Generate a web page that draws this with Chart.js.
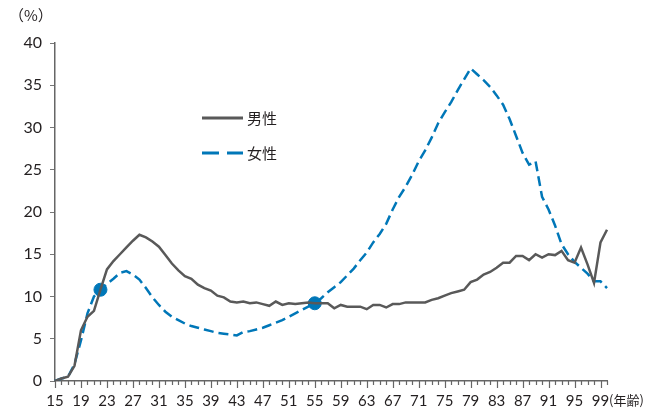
<!DOCTYPE html>
<html>
<head>
<meta charset="utf-8">
<script src="https://cdn.jsdelivr.net/npm/chart.js@4"></script>
<style>
  html, body { margin: 0; padding: 0; background: #fff; overflow: hidden; }
  #wrap { width: 655px; height: 413px; }
</style>
</head>
<body>
<div id="wrap"><canvas id="grafica"></canvas></div>
<script>
// 年齢 15〜100
const edades = [];
for (let a = 15; a <= 100; a++) edades.push(a);

const hombres = [
  0.0, 0.3, 0.5, 1.8, 6.0, 7.6, 8.3, 10.8, 13.2, 14.2,
  15.0, 15.8, 16.6, 17.3, 17.0, 16.5, 15.9, 14.9, 13.9, 13.1,
  12.4, 12.1, 11.4, 11.0, 10.7, 10.1, 9.9, 9.4, 9.3, 9.4,
  9.2, 9.3, 9.1, 8.9, 9.4, 9.0, 9.2, 9.1, 9.2, 9.3,
  9.2, 9.2, 9.2, 8.6, 9.0, 8.8, 8.8, 8.8, 8.5, 9.0,
  9.0, 8.7, 9.1, 9.1, 9.3, 9.3, 9.3, 9.3, 9.6, 9.8,
  10.1, 10.4, 10.6, 10.8, 11.7, 12.0, 12.6, 12.9, 13.4, 14.0,
  14.0, 14.8, 14.8, 14.3, 15.0, 14.6, 15.0, 14.9, 15.4, 14.3,
  14.0, 15.8, 13.8, 11.6, 16.4, 17.9
];

const mujeres = [
  0.0, 0.3, 0.5, 2.0, 4.8, 8.0, 10.0, 10.8, 11.5, 12.1,
  12.8, 13.0, 12.6, 12.0, 11.0, 9.9, 9.0, 8.2, 7.6, 7.2,
  6.8, 6.5, 6.3, 6.1, 5.9, 5.7, 5.6, 5.5, 5.4, 5.8,
  5.9, 6.1, 6.3, 6.6, 6.9, 7.2, 7.6, 8.0, 8.4, 8.8,
  9.2, 9.8, 10.5, 11.1, 11.7, 12.5, 13.3, 14.3, 15.2, 16.4,
  17.4, 18.6, 20.3, 21.8, 23.0, 24.4, 26.0, 27.3, 28.8, 30.5,
  31.8, 33.0, 34.4, 35.7, 37.0, 36.3, 35.6, 34.8, 33.8, 32.7,
  31.0, 29.0, 27.0, 25.6, 26.0, 21.8, 20.3, 18.4, 16.2, 15.0,
  14.1, 13.4, 12.7, 11.8, 11.8, 11.0
];

// 交点
const cruces = [22, 55];

const ticksY = [0, 5, 10, 15, 20, 25, 30, 35, 40];

const gris = '#595959';
const azul = '#0077b8';
const texto = '#231f20';
const fuente = 'Lato, "Noto Sans", sans-serif';

const puntos = edades.map((e, i) => cruces.includes(e) ? mujeres[i] : null);

const rotulado = e => (e - 15) % 4 === 0 && e < 100;

const extras = {
  id: 'extras',
  afterDraw(chart) {
    const ctx = chart.ctx;
    const x = chart.scales.x;
    ctx.save();

    // marcas del eje x
    ctx.strokeStyle = '#666';
    ctx.lineWidth = 1.2;
    ctx.beginPath();
    edades.forEach((e, i) => {
      const px = Math.round(x.getPixelForValue(i)) + 0.5;
      ctx.moveTo(px, x.top);
      ctx.lineTo(px, x.top + (rotulado(e) ? 7 : 4));
    });
    ctx.stroke();

    ctx.fillStyle = texto;
    ctx.textBaseline = 'middle';
    ctx.textAlign = 'left';
    ctx.font = '15px "Noto Sans CJK JP", "Noto Sans", sans-serif';
    ctx.fillText('（%）', 9, 15);
    // (年齢)
    ctx.font = '13px "Noto Sans CJK JP", "Noto Sans", sans-serif';
    ctx.fillText('(年齢)', 609, 400);

    // leyenda
    ctx.lineWidth = 3;
    ctx.strokeStyle = gris;
    ctx.beginPath();
    ctx.moveTo(202, 118);
    ctx.lineTo(243, 118);
    ctx.stroke();
    ctx.strokeStyle = azul;
    ctx.beginPath();
    ctx.moveTo(202, 153);
    ctx.lineTo(219, 153);
    ctx.moveTo(227, 153);
    ctx.lineTo(243, 153);
    ctx.stroke();
    ctx.font = '15px "Noto Sans CJK JP", sans-serif';
    ctx.fillText('男性', 247, 118);
    ctx.fillText('女性', 247, 153);
    ctx.restore();
  }
};

new Chart(document.getElementById('grafica'), {
  type: 'line',
  data: {
    labels: edades,
    datasets: [
      {
        label: '男性',
        data: hombres,
        borderColor: gris,
        borderWidth: 2.5,
        pointRadius: 0,
        tension: 0
      },
      {
        label: '女性',
        data: mujeres,
        borderColor: azul,
        borderWidth: 2.5,
        borderDash: [10, 5],
        pointRadius: 0,
        tension: 0
      },
      {
        label: 'cruce',
        data: puntos,
        showLine: false,
        pointRadius: 6.5,
        pointBackgroundColor: azul,
        pointBorderColor: azul
      }
    ]
  },
  options: {
    responsive: true,
    maintainAspectRatio: false,
    animation: false,
    layout: { padding: { top: 43, right: 48, left: 0, bottom: 0 } },
    plugins: {
      legend: { display: false },
      tooltip: { enabled: false }
    },
    scales: {
      x: {
        offset: false,
        grid: { display: true, drawOnChartArea: false, drawTicks: false, tickLength: 7 },
        border: { color: '#666', width: 1.5 },
        ticks: {
          autoSkip: false,
          maxRotation: 0,
          padding: 11,
          color: texto,
          font: { size: 15, family: fuente },
          callback: function(v, i) {
            return rotulado(edades[i]) ? String(edades[i]) : '';
          }
        },
        afterFit(scale) { scale.height = 32; }
      },
      y: {
        min: 0,
        max: 40,
        afterBuildTicks(scale) { scale.ticks = ticksY.map(v => ({ value: v })); },
        grid: { display: true, drawOnChartArea: false, drawTicks: true, tickLength: 5, color: '#777' },
        border: { color: '#666', width: 1.5 },
        ticks: {
          padding: 8,
          color: texto,
          font: { size: 16, family: fuente }
        },
        afterFit(scale) { scale.width = 55; }
      }
    }
  },
  plugins: [extras]
});
</script>
</body>
</html>
